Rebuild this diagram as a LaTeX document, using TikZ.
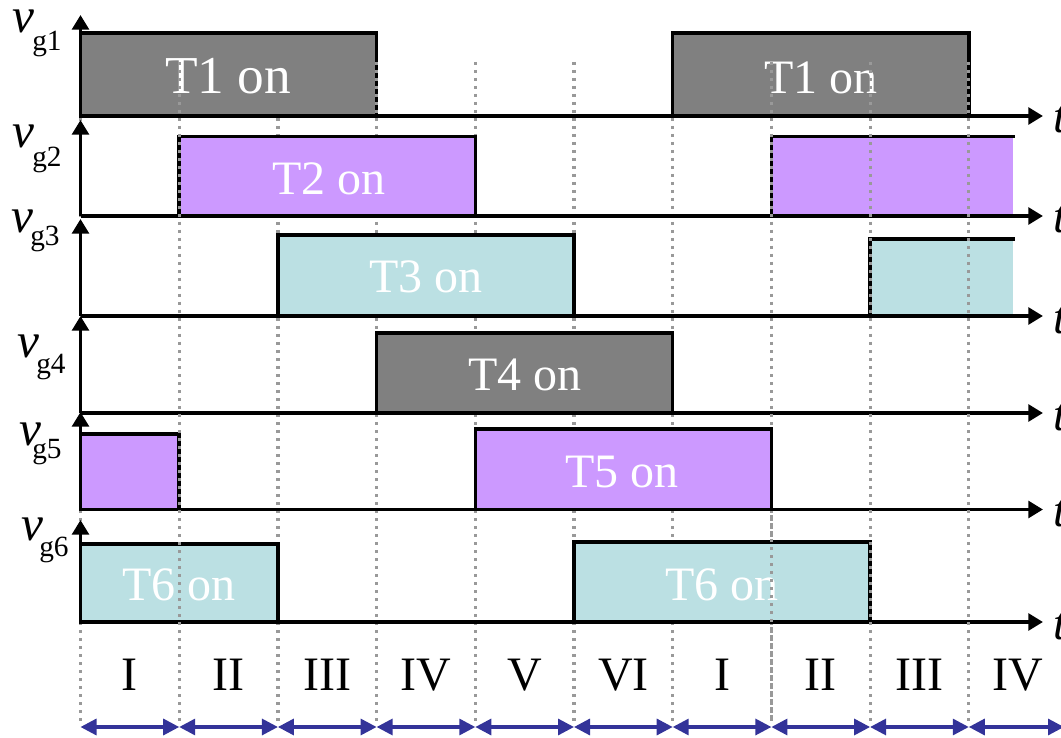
\documentclass[tikz,border=0pt]{standalone}
\usepackage{fontspec}
\setmainfont{Liberation Serif}
\usetikzlibrary{arrows.meta}
\definecolor{pgray}{HTML}{808080}
\definecolor{ppurple}{HTML}{CC99FF}
\definecolor{pteal}{HTML}{BBE0E3}
\definecolor{dotgray}{HTML}{999999}
\definecolor{arrowblue}{HTML}{333399}
\newcommand{\pulsebox}[5]{%
  \fill[#5] (#1,#4) rectangle (#2,#3);
  \draw[pulseline] (#1,#4) -- (#1,#3) -- (#2,#3) -- (#2,#4);}
\newcommand{\openpulse}[5]{%
  \fill[#5] (#1,#4) rectangle (#2,#3);
  \draw[pulseline] (#1,#4) -- (#1,#3) -- (#2,#3);}
\begin{document}
\begin{tikzpicture}[x=0.75pt,y=-0.75pt,
  gridline/.style={dotgray, line width=2.4pt, dash pattern=on 2.4pt off 3.6pt},
  pulseline/.style={line width=2.6pt, line join=miter, line cap=rect},
  axisline/.style={line width=2.8pt, -{Triangle[length=11pt,width=12.5pt]}},
  phasearrow/.style={arrowblue, line width=2.4pt,
     {Triangle[length=12pt,width=12pt]}-{Triangle[length=12pt,width=12pt]}},
  onlabel/.style={text=white, font=\fontsize{36}{40}\selectfont, inner sep=0, anchor=base},
  phaselabel/.style={font=\fontsize{36}{40}\selectfont, inner sep=0, anchor=base},
  vlabel/.style={font=\fontsize{37}{40}\selectfont\itshape, inner sep=0, anchor=base west},
  sublabel/.style={font=\fontsize{22}{24}\selectfont, inner sep=0, anchor=base west},
  tlabel/.style={font=\fontsize{36}{40}\selectfont\itshape, inner sep=0, anchor=base west}
]
\useasboundingbox (0,0) rectangle (1061,738);
\fill[white] (0,0) rectangle (1061,738);

% background dotted grid lines
\foreach \k in {0,...,9} {
  \draw[gridline] (80.5+98.7*\k,62) -- (80.5+98.7*\k,722);
}

% pulses
\pulsebox{80.5}{376.6}{33}{116}{pgray}
\pulsebox{672.7}{968.8}{33}{116}{pgray}
\pulsebox{179.2}{475.3}{136.5}{216}{ppurple}
\openpulse{771.4}{1013}{136.5}{216}{ppurple}
\pulsebox{277.9}{574.0}{235}{316}{pteal}
\openpulse{870.1}{1013}{239}{316}{pteal}
\pulsebox{376.6}{672.7}{333}{413}{pgray}
\pulsebox{80.5}{179.2}{434}{509.5}{ppurple}
\pulsebox{475.3}{771.4}{429}{509.5}{ppurple}
\pulsebox{80.5}{277.9}{544}{622}{pteal}
\pulsebox{574.0}{870.1}{542}{622}{pteal}

% on-labels
\node[onlabel, font=\fontsize{40}{44}\selectfont] (t1a) at (228,94) {T1 on};
\node[onlabel] (t1b) at (821,93.5) {T1 on};
\node[onlabel] (t2) at (329,195) {T2 on};
\node[onlabel] (t3) at (426,292.7) {T3 on};
\node[onlabel] (t4) at (525,390.7) {T4 on};
\node[onlabel] (t5) at (622,487.7) {T5 on};
\node[onlabel] (t6a) at (179,600) {T6 on};
\node[onlabel] (t6b) at (722,600) {T6 on};

% axes
\foreach \ya/\yt in {116/15, 216/120, 316/219, 413/316, 509.5/412, 622/520} {
  \draw[axisline] (80.5,\ya) -- (80.5,\yt);
  \draw[axisline] (80.5,\ya) -- (1043,\ya);
}

% dotted lines drawn over the pulses
\draw[gridline] (179.2,62) -- (179.2,722);
\draw[gridline] (376.6,62) -- (376.6,116);
\draw[gridline] (771.4,62) -- (771.4,425);
\draw[gridline] (771.4,515) -- (771.4,722);
\draw[gridline] (870.1,62) -- (870.1,722);
\draw[gridline] (968.8,62) -- (968.8,722);

% signal names
\node[vlabel] (v1) at (12,33) {v};   \node[sublabel] (s1) at (32,51) {g1};
\node[vlabel] (v2) at (12,148) {v};  \node[sublabel] (s2) at (32,167) {g2};
\node[vlabel] (v3) at (11,233) {v};  \node[sublabel] (s3) at (30,246) {g3};
\node[vlabel] (v4) at (17,357) {v};  \node[sublabel] (s4) at (36,373) {g4};
\node[vlabel] (v5) at (19,445) {v};  \node[sublabel] (s5) at (32,458) {g5};
\node[vlabel] (v6) at (21,540) {v};  \node[sublabel] (s6) at (39,556) {g6};

% time labels (clipped at right edge)
\foreach \ya/\n in {116/1, 216/2, 316/3, 413/4, 509.5/5, 622/6} {
  \node[tlabel] (tt\n) at (1053,\ya+17) {t};
}

% phase arrows and labels
\foreach \k in {0,...,8} {
  \draw[phasearrow] (80.5+98.7*\k,727) -- (80.5+98.7*\k+98.7,727);
}
\draw[phasearrow] (968.8,727) -- (1064,727);
\foreach \k/\r in {0/I,1/II,2/III,3/IV,4/V,5/VI,6/I,7/II,8/III} {
  \node[phaselabel] (ph\k) at (80.5+98.7*\k+49.35,690) {\r};
}
\node[phaselabel] (ph9) at (1018,690) {IV};
\end{tikzpicture}
\end{document}
